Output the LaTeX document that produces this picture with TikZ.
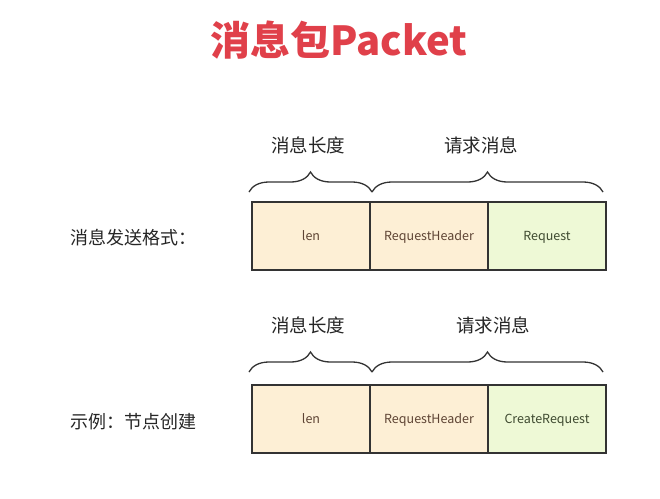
\documentclass[tikz,border=0pt]{standalone}
\usepackage{fontspec}
\setmainfont{Noto Sans CJK SC}
\newfontfamily\cjk{Noto Sans CJK SC}
\usetikzlibrary{decorations.pathreplacing}
\definecolor{titlered}{HTML}{E0404A}
\definecolor{orangefill}{HTML}{FDEFD5}
\definecolor{greenfill}{HTML}{EEF9D6}
\definecolor{edgecol}{HTML}{333333}
\definecolor{browntext}{HTML}{5E4434}
\definecolor{greentext}{HTML}{3E4A30}
\tikzset{
  cell/.style={draw=edgecol, line width=1.1pt, minimum width=118pt, minimum height=68pt, inner sep=0pt, text depth=-3pt, font=\cjk\fontsize{12.5}{14}\selectfont},
  orangecell/.style={cell, fill=orangefill, text=browntext},
  greencell/.style={cell, fill=greenfill, text=greentext},
  bracestyle/.style={decorate, decoration={brace, amplitude=20pt, aspect=0.5}, line width=1.3pt, draw=edgecol},
  toplabel/.style={font=\cjk\fontsize{18.5}{22}\selectfont, text=black!85},
  sidelabel/.style={font=\cjk\fontsize{18}{22}\selectfont, text=black!85, anchor=east}
}
\begin{document}
\begin{tikzpicture}[x=1pt,y=-1pt]
\useasboundingbox[fill=white] (0,0) rectangle (660,498);
\node[font=\cjk\bfseries\fontsize{40}{44}\selectfont, text=titlered] (title) at (339,40) {消息包Packet};

% row 1
\node[orangecell] (len1) at (311,236) {len};
\node[orangecell] (hdr1) at (429,236) {RequestHeader};
\node[greencell] (req1) at (547,236) {Request};
\coordinate (b1a) at (249,192);
\coordinate (b1b) at (372,192);
\coordinate (b1c) at (603,192);
\draw[bracestyle] (b1a) -- (b1b);
\draw[bracestyle] (b1b) -- (b1c);
\node[toplabel] (l1a) at (308,145) {消息长度};
\node[toplabel] (l1b) at (481,145) {请求消息};
\node[sidelabel] (s1) at (200,238) {消息发送格式：};

% row 2
\node[orangecell] (len2) at (311,419) {len};
\node[orangecell] (hdr2) at (429,419) {RequestHeader};
\node[greencell] (req2) at (547,419) {CreateRequest};
\coordinate (b2a) at (249,372);
\coordinate (b2b) at (372,372);
\coordinate (b2c) at (603,372);
\draw[bracestyle] (b2a) -- (b2b);
\draw[bracestyle] (b2b) -- (b2c);
\node[toplabel] (l2a) at (308,325) {消息长度};
\node[toplabel] (l2b) at (493,325) {请求消息};
\node[sidelabel] (s2) at (200,422) {示例：节点创建};
\end{tikzpicture}
\end{document}
